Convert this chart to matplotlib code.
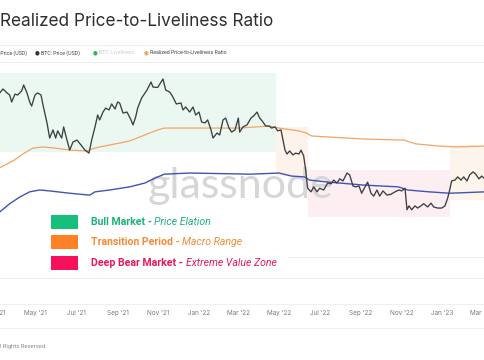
import matplotlib
matplotlib.use("Agg")
import matplotlib.pyplot as plt
import matplotlib.dates as mdates
from matplotlib.patches import Rectangle
from matplotlib.lines import Line2D
import pandas as pd

# BTC: Price (USD)
price_dates = [
    '2021-03-01', '2021-03-08', '2021-03-13', '2021-03-19', '2021-03-23', '2021-03-26', '2021-03-31',
    '2021-04-04', '2021-04-10', '2021-04-13', '2021-04-18', '2021-04-22', '2021-04-25', '2021-04-30',
    '2021-05-04', '2021-05-09', '2021-05-12', '2021-05-18', '2021-05-22', '2021-05-27', '2021-05-31',
    '2021-06-03', '2021-06-09', '2021-06-12', '2021-06-15', '2021-06-21', '2021-06-26', '2021-07-02',
    '2021-07-08', '2021-07-14', '2021-07-20', '2021-07-24', '2021-07-29', '2021-08-02', '2021-08-05',
    '2021-08-10', '2021-08-14', '2021-08-19', '2021-08-23', '2021-08-28', '2021-09-01', '2021-09-04',
    '2021-09-09', '2021-09-15', '2021-09-21', '2021-09-24', '2021-09-28', '2021-10-01', '2021-10-07',
    '2021-10-15', '2021-10-21', '2021-10-24', '2021-10-31', '2021-11-08', '2021-11-12', '2021-11-18',
    '2021-11-22', '2021-11-28', '2021-12-05', '2021-12-08', '2021-12-12', '2021-12-18', '2021-12-23',
    '2021-12-27', '2022-01-01', '2022-01-05', '2022-01-10', '2022-01-14', '2022-01-19', '2022-01-22',
    '2022-01-28', '2022-02-01', '2022-02-06', '2022-02-10', '2022-02-15', '2022-02-19', '2022-02-24',
    '2022-03-01', '2022-03-03', '2022-03-08', '2022-03-14', '2022-03-20', '2022-03-24', '2022-03-29',
    '2022-04-02', '2022-04-07', '2022-04-11', '2022-04-16', '2022-04-20', '2022-04-25', '2022-04-29',
    '2022-05-04', '2022-05-07', '2022-05-10', '2022-05-13', '2022-05-17', '2022-05-22', '2022-05-26',
    '2022-05-31', '2022-06-03', '2022-06-07', '2022-06-10', '2022-06-13', '2022-06-18', '2022-06-22',
    '2022-06-27', '2022-07-01', '2022-07-07', '2022-07-13', '2022-07-18', '2022-07-22', '2022-07-27',
    '2022-07-31', '2022-08-05', '2022-08-11', '2022-08-15', '2022-08-20', '2022-08-24', '2022-08-29',
    '2022-09-02', '2022-09-07', '2022-09-11', '2022-09-16', '2022-09-20', '2022-09-25', '2022-09-29',
    '2022-10-04', '2022-10-10', '2022-10-16', '2022-10-22', '2022-10-28', '2022-11-01', '2022-11-06',
    '2022-11-09', '2022-11-12', '2022-11-16', '2022-11-21', '2022-11-25', '2022-11-30', '2022-12-04',
    '2022-12-10', '2022-12-15', '2022-12-19', '2022-12-25', '2022-12-31', '2023-01-05', '2023-01-09',
    '2023-01-12', '2023-01-15', '2023-01-20', '2023-01-24', '2023-01-29', '2023-02-02', '2023-02-07',
    '2023-02-11', '2023-02-16', '2023-02-20', '2023-02-25', '2023-03-01', '2023-03-06',
]
btc_price = [
    56000, 58100, 60700, 58100, 56800, 52600, 57400,
    56800, 59400, 63400, 58100, 52600, 50300, 56800,
    58100, 56800, 50900, 41800, 35400, 38700, 35400,
    38300, 35400, 40000, 36600, 31000, 33900, 34600,
    32800, 31000, 30000, 34600, 40000, 45600, 43200,
    47100, 49200, 48200, 51500, 48700, 52600, 52000,
    46600, 47100, 43200, 40900, 44600, 49200, 55000,
    60000, 65500, 62000, 61700, 67700, 60000, 58700,
    56200, 51500, 52000, 48200, 49800, 47100, 49800,
    45600, 47100, 42200, 41800, 43200, 38700, 35400,
    37400, 36600, 43200, 44100, 39500, 37800, 38700,
    44100, 37800, 40000, 40900, 44100, 45100, 47100,
    44100, 42200, 40400, 40400, 39500, 40000, 38300,
    38700, 34600, 31000, 29700, 30700, 29400, 30000,
    29700, 31000, 29100, 24900, 20400, 19600, 20700,
    19600, 20400, 20000, 21600, 21400, 22300, 21600,
    22600, 22100, 24100, 23600, 20900, 20700, 20900,
    19300, 20700, 21800, 19300, 18700, 20000, 18700,
    19800, 18900, 19100, 19600, 20000, 19800, 20400,
    16100, 16800, 16100, 16800, 16400, 16800, 17200,
    16600, 17300, 16600, 16400, 16400, 16800, 18300,
    20000, 22100, 22300, 23100, 22300, 23100, 22100,
    23600, 24400, 23800, 22600, 23300, 22600,
]

# Realized Price-to-Liveliness Ratio
ratio_dates = [
    '2021-03-01', '2021-03-08', '2021-03-30', '2021-04-14', '2021-04-27', '2021-05-12', '2021-05-30',
    '2021-06-21', '2021-07-18', '2021-07-24', '2021-08-05', '2021-08-20', '2021-09-04', '2021-09-19',
    '2021-10-04', '2021-10-19', '2021-10-31', '2021-11-10', '2022-01-02', '2022-03-03', '2022-04-16',
    '2022-05-01', '2022-05-31', '2022-06-11', '2022-06-19', '2022-07-15', '2022-09-06', '2022-11-05',
    '2022-11-13', '2022-11-22', '2022-12-28', '2023-01-20', '2023-03-06',
]
rp_liveliness = [
    24500, 25500, 27800, 30000, 31700, 32100, 31700,
    31000, 30700, 31400, 32100, 32800, 33500, 34300,
    35800, 37400, 38700, 39500, 39500, 39500, 40400,
    39500, 38300, 37400, 36200, 35800, 35000, 34600,
    33900, 33200, 32400, 32100, 32400,
]

# BTC: Realized Price (USD)
realized_dates = [
    '2021-03-01', '2021-03-08', '2021-03-23', '2021-04-07', '2021-04-22', '2021-05-07', '2021-05-22',
    '2021-06-21', '2021-07-21', '2021-07-29', '2021-08-20', '2021-09-19', '2021-10-12', '2021-10-27',
    '2021-11-10', '2021-12-18', '2022-03-20', '2022-05-01', '2022-05-20', '2022-06-08', '2022-06-16',
    '2022-07-15', '2022-09-06', '2022-10-27', '2022-11-10', '2022-12-12', '2023-01-12', '2023-03-06',
]
realized_price = [
    14900, 15700, 17200, 18500, 19600, 20000, 19800,
    19300, 18900, 19600, 20000, 20700, 21600, 22800,
    23800, 24100, 23800, 24100, 23300, 23100, 22300,
    21800, 21100, 20700, 20000, 19600, 19300, 19600,
]

# market regime boxes
zone_start = ['2021-01-01', '2022-04-26', '2022-06-13', '2023-01-12']
zone_end = ['2022-04-26', '2022-06-13', '2023-01-12', '2023-06-01']
zone_low = [30400, 23300, 14900, 17900]
zone_high = [72400, 40000, 24900, 32800]
zone_fill = ['#ebf8f2', '#fdf3ea', '#fdeef2', '#fdf4eb']

legend_labels = ['Bull Market', 'Transition Period', 'Deep Bear Market']
legend_notes = ['Price Elation', 'Macro Range', 'Extreme Value Zone']
legend_box = ['#16c07c', '#ff8126', '#f7115c']
legend_text = ['#1db27a', '#f58a35', '#e8175f']

W, H = 485, 360


def fx(px):
    return px / W


def fy(py):
    return 1 - py / H


fig = plt.figure(figsize=(4.85, 3.6), dpi=100)
fig.patch.set_facecolor('white')

ax = fig.add_axes([fx(-20), fy(304), 525 / W, (304 - 62) / H])
ax.set_facecolor('none')
for s in ax.spines.values():
    s.set_visible(False)

t0 = pd.Timestamp('2021-03-01')
ax.set_xlim(t0 + pd.Timedelta(days=-22.5), t0 + pd.Timedelta(days=765))
ax.set_yscale('log')
ax.set_ylim(5714, 81640)
ax.set_yticks([])
ax.yaxis.set_minor_locator(matplotlib.ticker.NullLocator())

for s, e, lo, hi, c in zip(zone_start, zone_end, zone_low, zone_high, zone_fill):
    ax.fill_between([pd.Timestamp(s), pd.Timestamp(e)], lo, hi, color=c, lw=0, zorder=0)

ax.text(fx(241), fy(198), 'glassnode', transform=fig.transFigure, ha='center', va='baseline',
        fontsize=31, color='#d6d6d6', family='Lato', zorder=1)

ax.plot(pd.to_datetime(realized_dates), realized_price, color='#3f55b5', lw=1.0, zorder=3)
ax.plot(pd.to_datetime(ratio_dates), rp_liveliness, color='#f2a566', lw=0.9, zorder=3)
ax.plot(pd.to_datetime(price_dates), btc_price, color='#3b3f40', lw=0.95, zorder=4)

ax.xaxis.set_major_locator(mdates.MonthLocator(bymonth=[1, 3, 5, 7, 9, 11]))
ax.xaxis.set_major_formatter(mdates.DateFormatter("%b '%y"))
ax.tick_params(axis='x', length=0, pad=4, labelsize=4.6, labelcolor='#7a7a7a')
for lab in ax.get_xticklabels():
    lab.set_family('Inter')

# faint rules
for py, x0 in [(45, 0), (62, 0), (257, 287), (278, 0), (304, 0), (328, 0)]:
    fig.add_artist(Line2D([fx(x0), 1], [fy(py), fy(py)], transform=fig.transFigure,
                          color='#ececec', lw=0.6, zorder=0.5))

# title
fig.text(fx(0), fy(21), 'Realized Price-to-Liveliness Ratio', ha='left', va='center',
         fontsize=12.4, color='#2e2e2e', family='Inter')

# series legend row
dot_fonts = ['Roboto', 'DejaVu Sans']
fig.text(fx(27), fy(53), '\u25cf  BTC: Realized Price (USD)', ha='right', va='center',
         fontsize=3.8, color='#444444', family=dot_fonts)
row = [(37, '#333333', 'BTC: Price (USD)', '#444444'),
       (95, '#2db84d', 'BTC: Liveliness', '#cccccc'),
       (146, '#f2a566', 'Realized Price-to-Liveliness Ratio', '#444444')]
for x, dc, txt, tc in row:
    fig.text(fx(x), fy(53), '\u25cf', ha='center', va='center', fontsize=4, color=dc, family='DejaVu Sans')
    fig.text(fx(x + 4), fy(53), txt, ha='left', va='center', fontsize=3.8, color=tc, family='Roboto')

# regime legend on a white card
fig.add_artist(Rectangle((fx(22), fy(276)), fx(287 - 22), (276 - 206) / H, transform=fig.transFigure,
                         facecolor='white', edgecolor='none', zorder=2))
renderer = fig.canvas.get_renderer()
for i, (lab, note, bc, tc) in enumerate(zip(legend_labels, legend_notes, legend_box, legend_text)):
    yc = [222, 242, 263][i]
    fig.add_artist(Rectangle((fx(51), fy(yc + 7)), fx(27), 14 / H, transform=fig.transFigure,
                             facecolor=bc, edgecolor='none', zorder=3))
    t1 = fig.text(fx(91), fy(yc + 3), lab + ' - ', ha='left', va='baseline', fontsize=7.6,
                  fontweight='bold', color=tc, family='Roboto', zorder=4)
    bb = t1.get_window_extent(renderer)
    fig.text(bb.x1 / fig.bbox.width, fy(yc + 3), note, ha='left', va='baseline', fontsize=7.6,
             style='italic', color=tc, family='Roboto', zorder=4)

fig.text(fx(47), fy(346), '\u00a9 2023 Glassnode. All Rights Reserved.', ha='right', va='center',
         fontsize=4.2, color='#8a8a8a', family='Roboto')

fig.savefig('out.png', dpi=100)
